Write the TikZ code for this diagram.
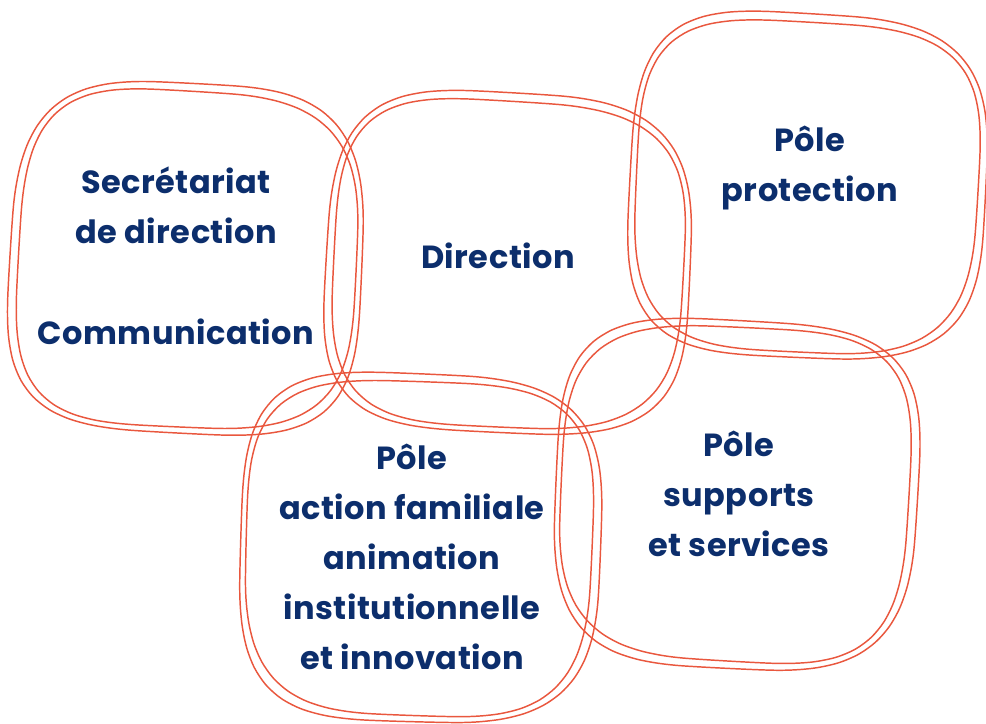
\documentclass[tikz,border=0pt]{standalone}
\usepackage{fontspec}
\setmainfont{Poppins}
\definecolor{blobred}{HTML}{E9573E}
\definecolor{navy}{HTML}{0C2E6C}
\newcommand\blob[6]{%
  \begin{scope}[shift={(#1,#2)},rotate=#5]
    \draw[blobline] plot[smooth cycle,domain=5:355,samples=36,variable=\t]
      ({#3*sign(cos(\t))*pow(abs(cos(\t)),0.57)*(1+0.010*sin(3*\t+#6))},
       {#4*sign(sin(\t))*pow(abs(sin(\t)),0.57)*(1+0.010*sin(3*\t+#6))});
    \draw[blobline] plot[smooth cycle,domain=5:355,samples=36,variable=\t]
      ({(#3-7)*sign(cos(\t))*pow(abs(cos(\t)),0.57)*(1+0.010*sin(3*\t+#6+60))},
       {(#4-7)*sign(sin(\t))*pow(abs(sin(\t)),0.57)*(1+0.010*sin(3*\t+#6+60))});
  \end{scope}}
\begin{document}
\begin{tikzpicture}[x=0.75pt,y=-0.75pt,
  blobline/.style={draw=blobred,line width=1.1pt},
  lbl/.style={text=navy,font=\fontsize{24}{37.5}\selectfont\addfontfeatures{LetterSpace=1.5}\bfseries,align=center,inner sep=0pt}]
\useasboundingbox (0,0) rectangle (986,724);
\blob{186}{260}{176}{175}{-3}{0}
\blob{507}{264}{182}{170}{-3}{40}
\blob{806}{186}{178}{172}{-3}{80}
\blob{419}{547}{180}{174}{-2}{120}
\blob{736}{493}{181}{174}{-3}{160}
\node[lbl] (sec) at (176,205) {Secrétariat\\de direction};
\node[lbl] (com) at (176,332) {Communication};
\node[lbl] (dir) at (498,256) {Direction};
\node[lbl] (prot) at (810,168) {Pôle\\protection};
\node[lbl] (act) at (412,557) {Pôle\\action familiale\\animation\\institutionnelle\\et innovation};
\node[lbl] (sup) at (739,494) {Pôle\\supports\\et services};
\end{tikzpicture}
\end{document}
